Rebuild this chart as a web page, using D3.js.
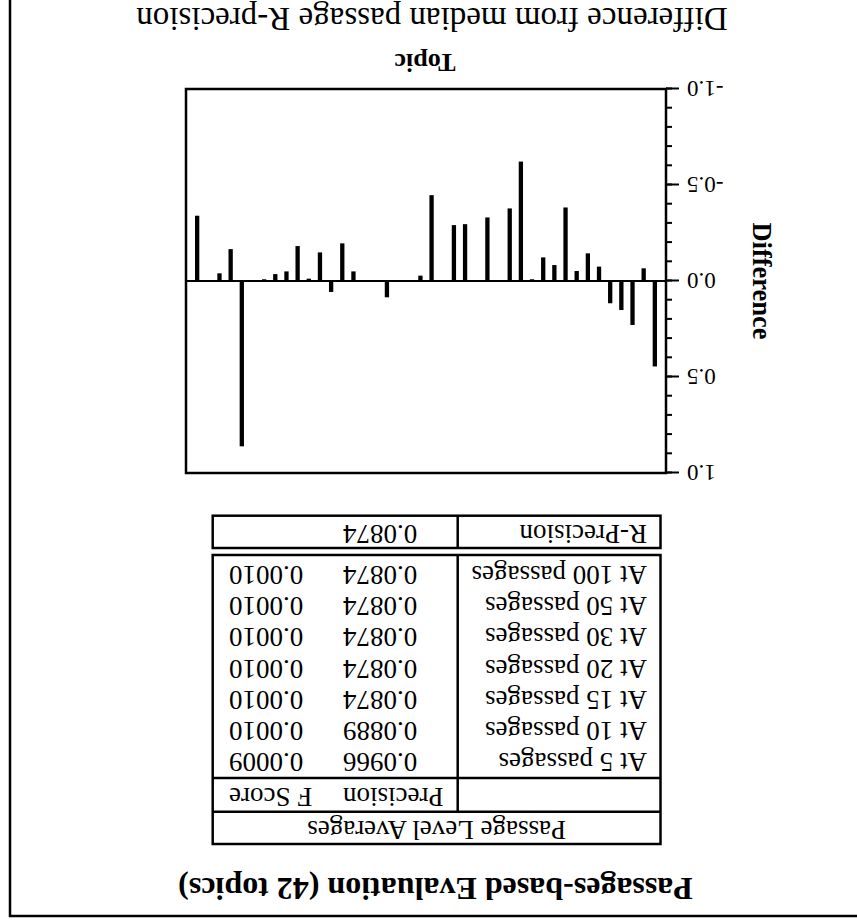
<!DOCTYPE html>
<html>
<head>
<meta charset="utf-8">
<script src="https://cdn.jsdelivr.net/npm/d3@7"></script>
<style>
  body { margin: 0; background: #fff; }
  text { font-family: "Liberation Serif", "Times New Roman", Times, serif; fill: #000; }
</style>
</head>
<body>
<script>
// difference from the median passage R-precision, topic 1 .. 42
var topics = d3.range(1, 43);
var diffs = [0.445, -0.066, 0.229, 0.151, 0.116, -0.075, -0.144, -0.052, -0.383, -0.083,
  -0.123, -0.009, -0.622, -0.378, 0, -0.331, 0, -0.296, -0.291, 0,
  -0.447, -0.028, 0, 0, 0.085, 0, 0, -0.050, -0.196, 0.057,
  -0.149, -0.012, -0.182, -0.050, -0.036, -0.009, 0, 0.861, -0.166, -0.040,
  0, -0.340];

// table values
var cutoffs = ["At 5 passages", "At 10 passages", "At 15 passages", "At 20 passages",
  "At 30 passages", "At 50 passages", "At 100 passages"];
var precision = [0.0966, 0.0889, 0.0874, 0.0874, 0.0874, 0.0874, 0.0874];
var fScore = [0.0009, 0.0010, 0.0010, 0.0010, 0.0010, 0.0010, 0.0010];
var rPrecision = 0.0874;

// axis tick values
var majorTicks = [-1, -0.5, 0, 0.5, 1];
var minorTicks = d3.range(-10, 11).map(function(d) { return d / 10; });

var width = 857;
var height = 922;

var svg = d3.select("body")
  .append("svg")
  .attr("width", width)
  .attr("height", height);

// the whole page is shown upside down
var page = svg.append("g")
  .attr("transform", "rotate(180 " + width / 2 + " " + height / 2 + ")");

// helper for plain text
function addText(parent, str, x, y, size, anchor, weight) {
  return parent.append("text")
    .attr("x", x)
    .attr("y", y)
    .attr("text-anchor", anchor)
    .style("font-size", size + "px")
    .style("font-weight", weight)
    .text(str);
}

// page frame (only right and top edges are in view)
page.append("rect")
  .attr("x", -20)
  .attr("y", 6)
  .attr("width", 867)
  .attr("height", 940)
  .attr("fill", "none")
  .attr("stroke", "#000")
  .attr("stroke-width", 2.5);

// title
addText(page, "Passages-based Evaluation (42 topics)", 421.5, 44, 32, "middle", "bold");

// ---------- table ----------
var tLeft = 196.5, tRight = 644.3, tDiv = 399.3;
var colPrec = 514, colF = 628, labelX = 210;
var tableSize = 27;

var table = page.append("g").attr("class", "table");

table.append("rect")
  .attr("x", tLeft).attr("y", 78)
  .attr("width", tRight - tLeft).attr("height", 367 - 78)
  .attr("fill", "none").attr("stroke", "#000").attr("stroke-width", 2.5);

[110.3, 144].forEach(function(yy) {
  table.append("line")
    .attr("x1", tLeft).attr("x2", tRight)
    .attr("y1", yy).attr("y2", yy)
    .attr("stroke", "#000").attr("stroke-width", 2.5);
});

table.append("line")
  .attr("x1", tDiv).attr("x2", tDiv)
  .attr("y1", 110.3).attr("y2", 367)
  .attr("stroke", "#000").attr("stroke-width", 2.5);

addText(table, "Passage Level Averages", (tLeft + tRight) / 2, 101, tableSize, "middle", "normal");
addText(table, "Precision", colPrec, 134, tableSize, "end", "normal");
addText(table, "F Score", colF, 134, tableSize, "end", "normal");

// row baselines
var rowY = d3.scalePoint()
  .domain(cutoffs)
  .range([168.7, 356]);

var rows = table.selectAll(".row")
  .data(cutoffs)
  .enter()
  .append("g")
  .attr("class", "row");

rows.each(function(d, i) {
  var row = d3.select(this);
  addText(row, d, labelX, rowY(d), tableSize, "start", "normal");
  addText(row, precision[i].toFixed(4), colPrec, rowY(d), tableSize, "end", "normal");
  addText(row, fScore[i].toFixed(4), colF, rowY(d), tableSize, "end", "normal");
});

// R-precision box
table.append("rect")
  .attr("x", tLeft).attr("y", 374)
  .attr("width", tRight - tLeft).attr("height", 406.3 - 374)
  .attr("fill", "none").attr("stroke", "#000").attr("stroke-width", 2.5);

table.append("line")
  .attr("x1", tDiv).attr("x2", tDiv)
  .attr("y1", 374).attr("y2", 406.3)
  .attr("stroke", "#000").attr("stroke-width", 2.5);

addText(table, "R-Precision", labelX, 397, tableSize, "start", "normal");
addText(table, rPrecision.toFixed(4), colPrec, 397, tableSize, "end", "normal");

// ---------- bar chart ----------
var plot = { left: 191, right: 671, top: 449, bottom: 833 };

var xScale = d3.scalePoint()
  .domain(topics)
  .range([plot.left, plot.right])
  .padding(1);

var yScale = d3.scaleLinear()
  .domain([-1, 1])
  .range([plot.bottom, plot.top]);

var chart = page.append("g").attr("class", "chart");

// minor ticks
chart.append("g")
  .attr("class", "minor")
  .attr("transform", "translate(" + plot.left + ",0)")
  .call(d3.axisLeft(yScale).tickValues(minorTicks).tickSize(6).tickFormat(""));

// major ticks with labels
chart.append("g")
  .attr("class", "major")
  .attr("transform", "translate(" + plot.left + ",0)")
  .call(d3.axisLeft(yScale)
    .tickValues(majorTicks)
    .tickSize(13)
    .tickPadding(8)
    .tickFormat(function(d) { return d.toFixed(1); }));

chart.selectAll(".domain").remove();
chart.selectAll(".tick line").attr("stroke", "#000").attr("stroke-width", 2);

chart.selectAll(".major .tick text")
  .attr("fill", "#000")
  .style("font-family", "'Liberation Serif', 'Times New Roman', Times, serif")
  .style("font-size", "23px");

// zero line
chart.append("line")
  .attr("x1", plot.left).attr("x2", plot.right)
  .attr("y1", yScale(0)).attr("y2", yScale(0))
  .attr("stroke", "#000").attr("stroke-width", 2);

// bars
var barWidth = 4.3;
chart.selectAll(".bar")
  .data(diffs)
  .enter()
  .append("rect")
  .attr("class", "bar")
  .attr("x", function(d, i) { return xScale(topics[i]) - barWidth / 2; })
  .attr("y", function(d) { return Math.min(yScale(d), yScale(0)); })
  .attr("width", barWidth)
  .attr("height", function(d) { return Math.abs(yScale(d) - yScale(0)); })
  .attr("fill", "#000");

// plot frame
chart.append("rect")
  .attr("x", plot.left).attr("y", plot.top)
  .attr("width", plot.right - plot.left).attr("height", plot.bottom - plot.top)
  .attr("fill", "none").attr("stroke", "#000").attr("stroke-width", 2.5);

// axis labels
addText(chart, "Difference", 0, 0, 26.5, "middle", "bold")
  .attr("transform", "translate(104," + (plot.top + plot.bottom) / 2 + ") rotate(-90)");
addText(chart, "Topic", 432, 868, 26, "middle", "bold");
addText(page, "Difference from median passage R-precision", 425, 914, 33, "middle", "normal");
</script>
</body>
</html>
